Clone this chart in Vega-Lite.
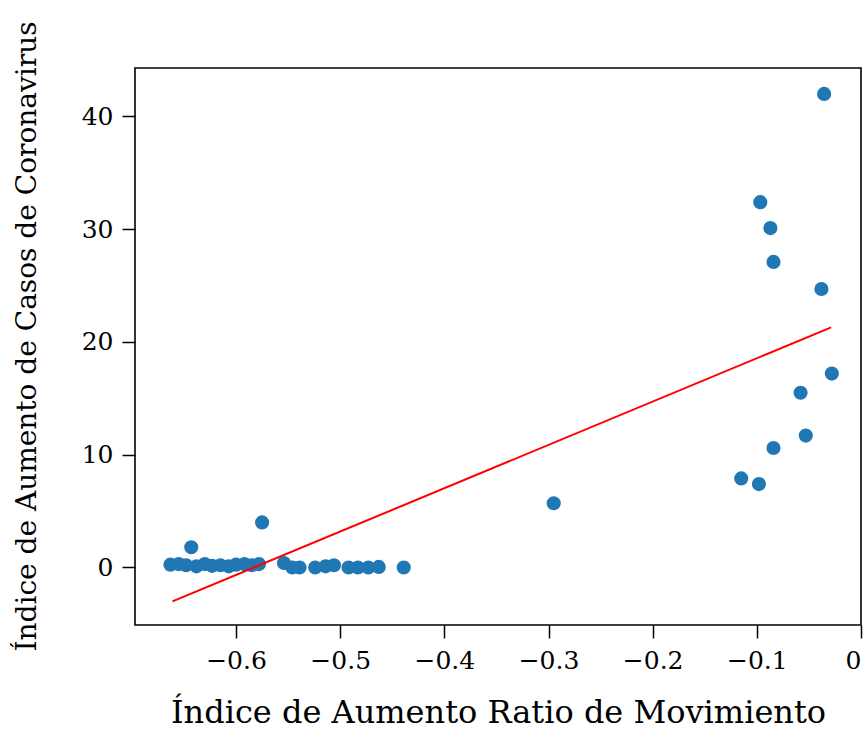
{
  "$schema": "https://vega.github.io/schema/vega-lite/v6.json",
  "width": 726,
  "height": 557,
  "autosize": {"type": "none"},
  "padding": {"left": 135, "top": 68, "right": 6, "bottom": 106},
  "background": "white",
  "config": {
    "view": {"stroke": "black", "strokeWidth": 1.6},
    "axis": {
      "domain": false,
      "grid": false,
      "tickColor": "black",
      "tickWidth": 1.5,
      "tickSize": 13,
      "labelColor": "black",
      "titleColor": "black",
      "labelFont": "DejaVu Serif",
      "titleFont": "DejaVu Serif",
      "titleFontWeight": "normal"
    }
  },
  "datasets": {
    "points": [
      {"x": -0.663, "y": 0.25}, {"x": -0.655, "y": 0.3}, {"x": -0.648, "y": 0.2},
      {"x": -0.643, "y": 1.8}, {"x": -0.638, "y": 0.1}, {"x": -0.63, "y": 0.3},
      {"x": -0.623, "y": 0.15}, {"x": -0.615, "y": 0.2}, {"x": -0.607, "y": 0.1},
      {"x": -0.6, "y": 0.25}, {"x": -0.592, "y": 0.3}, {"x": -0.585, "y": 0.2},
      {"x": -0.578, "y": 0.3}, {"x": -0.575, "y": 4.0}, {"x": -0.554, "y": 0.4},
      {"x": -0.546, "y": 0.0}, {"x": -0.539, "y": 0.0}, {"x": -0.524, "y": 0.0},
      {"x": -0.514, "y": 0.1}, {"x": -0.506, "y": 0.2}, {"x": -0.492, "y": 0.0},
      {"x": -0.483, "y": 0.0}, {"x": -0.473, "y": 0.0}, {"x": -0.463, "y": 0.05},
      {"x": -0.439, "y": 0.0}, {"x": -0.295, "y": 5.7},
      {"x": -0.0354, "y": 42.0}, {"x": -0.0967, "y": 32.4}, {"x": -0.087, "y": 30.1},
      {"x": -0.084, "y": 27.1}, {"x": -0.038, "y": 24.7}, {"x": -0.028, "y": 17.2},
      {"x": -0.058, "y": 15.5}, {"x": -0.053, "y": 11.7}, {"x": -0.084, "y": 10.6},
      {"x": -0.115, "y": 7.9}, {"x": -0.098, "y": 7.4}
    ],
    "fit": [
      {"x": -0.661, "y": -3.0},
      {"x": -0.0287, "y": 21.3}
    ]
  },
  "layer": [
    {
      "data": {"name": "points"},
      "mark": {"type": "circle", "size": 200, "color": "#1f77b4", "opacity": 1},
      "encoding": {
        "x": {
          "field": "x", "type": "quantitative",
          "scale": {"domain": [-0.697, 0], "nice": false, "zero": false},
          "axis": {
            "values": [-0.6, -0.5, -0.4, -0.3, -0.2, -0.1, 0],
            "labelExpr": "datum.value == 0 ? '0' : format(datum.value, '.1f')",
            "labelFontSize": 25,
            "labelPadding": 10,
            "title": "Índice de Aumento Ratio de Movimiento",
            "titleFontSize": 32,
            "titlePadding": 24
          }
        },
        "y": {
          "field": "y", "type": "quantitative",
          "scale": {"domain": [-5.1, 44.3], "nice": false, "zero": false},
          "axis": {
            "values": [0, 10, 20, 30, 40],
            "labelFontSize": 25,
            "labelPadding": 9,
            "title": "Índice de Aumento de Casos de Coronavirus",
            "titleFontSize": 28,
            "titlePadding": 40,
            "titleY": 268
          }
        }
      }
    },
    {
      "data": {"name": "fit"},
      "mark": {"type": "line", "color": "#ff0000", "strokeWidth": 2},
      "encoding": {
        "x": {"field": "x", "type": "quantitative"},
        "y": {"field": "y", "type": "quantitative"}
      }
    }
  ]
}
